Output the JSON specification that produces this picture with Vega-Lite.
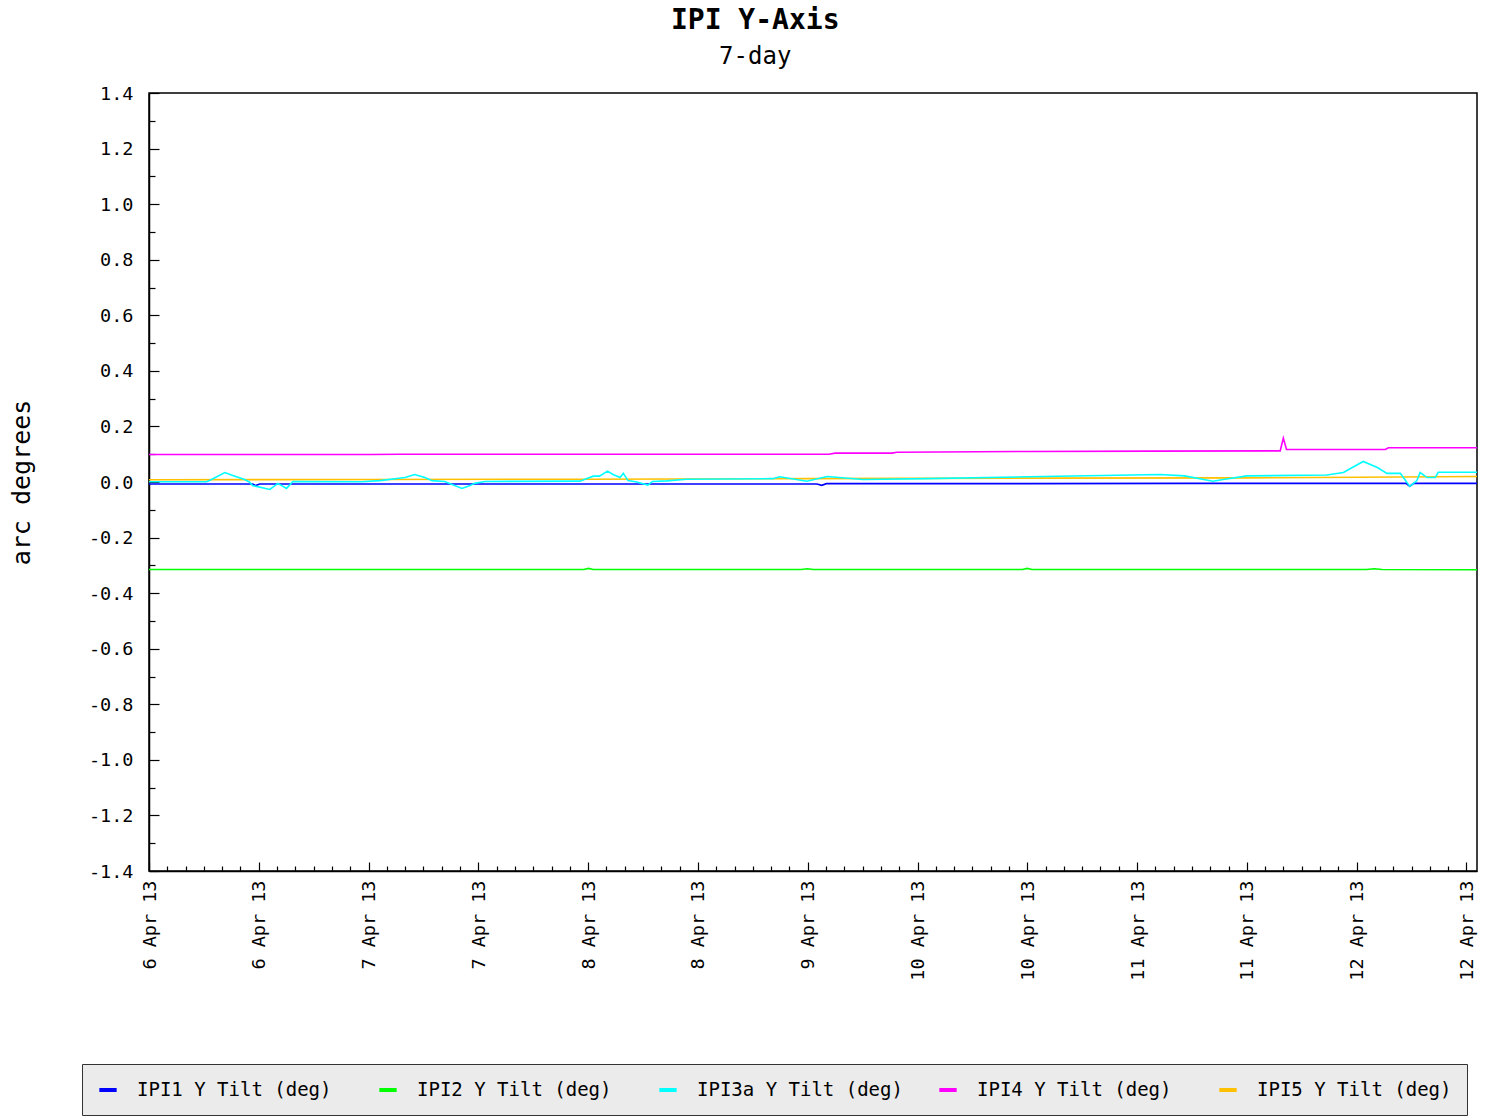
{
  "$schema": "https://vega.github.io/schema/vega-lite/v6.json",
  "width": 1328,
  "height": 778,
  "autosize": {"type": "none"},
  "padding": {"left": 149, "top": 93, "right": 30, "bottom": 249},
  "background": "white",
  "title": {
    "text": "IPI Y-Axis",
    "subtitle": "7-day",
    "font": "DejaVu Sans Mono",
    "fontSize": 28,
    "fontWeight": "bold",
    "color": "black",
    "subtitleFont": "DejaVu Sans Mono",
    "subtitleFontSize": 24,
    "subtitleColor": "black",
    "subtitlePadding": 10,
    "anchor": "middle",
    "frame": "bounds",
    "offset": 15,
    "dx": 12
  },
  "data": {
    "values": [
      {"series": "IPI1 Y Tilt (deg)", "time": "2013-04-06T01:00Z", "value": -0.007},
      {"series": "IPI1 Y Tilt (deg)", "time": "2013-04-06T14:06Z", "value": -0.007},
      {"series": "IPI1 Y Tilt (deg)", "time": "2013-04-06T14:30Z", "value": -0.013},
      {"series": "IPI1 Y Tilt (deg)", "time": "2013-04-06T15:00Z", "value": -0.007},
      {"series": "IPI1 Y Tilt (deg)", "time": "2013-04-07T18:00Z", "value": -0.007},
      {"series": "IPI1 Y Tilt (deg)", "time": "2013-04-08T08:36Z", "value": -0.007},
      {"series": "IPI1 Y Tilt (deg)", "time": "2013-04-09T13:30Z", "value": -0.007},
      {"series": "IPI1 Y Tilt (deg)", "time": "2013-04-09T14:06Z", "value": -0.012},
      {"series": "IPI1 Y Tilt (deg)", "time": "2013-04-09T14:42Z", "value": -0.006},
      {"series": "IPI1 Y Tilt (deg)", "time": "2013-04-10T16:00Z", "value": -0.006},
      {"series": "IPI1 Y Tilt (deg)", "time": "2013-04-11T12:00Z", "value": -0.005},
      {"series": "IPI1 Y Tilt (deg)", "time": "2013-04-12T16:00Z", "value": -0.005},
      {"series": "IPI1 Y Tilt (deg)", "time": "2013-04-12T16:30Z", "value": -0.015},
      {"series": "IPI1 Y Tilt (deg)", "time": "2013-04-12T17:00Z", "value": -0.005},
      {"series": "IPI1 Y Tilt (deg)", "time": "2013-04-13T01:00Z", "value": -0.005},

      {"series": "IPI2 Y Tilt (deg)", "time": "2013-04-06T01:00Z", "value": -0.315},
      {"series": "IPI2 Y Tilt (deg)", "time": "2013-04-08T08:00Z", "value": -0.315},
      {"series": "IPI2 Y Tilt (deg)", "time": "2013-04-08T08:36Z", "value": -0.311},
      {"series": "IPI2 Y Tilt (deg)", "time": "2013-04-08T09:12Z", "value": -0.315},
      {"series": "IPI2 Y Tilt (deg)", "time": "2013-04-09T11:30Z", "value": -0.315},
      {"series": "IPI2 Y Tilt (deg)", "time": "2013-04-09T12:18Z", "value": -0.312},
      {"series": "IPI2 Y Tilt (deg)", "time": "2013-04-09T13:00Z", "value": -0.315},
      {"series": "IPI2 Y Tilt (deg)", "time": "2013-04-10T15:30Z", "value": -0.315},
      {"series": "IPI2 Y Tilt (deg)", "time": "2013-04-10T16:06Z", "value": -0.311},
      {"series": "IPI2 Y Tilt (deg)", "time": "2013-04-10T16:42Z", "value": -0.315},
      {"series": "IPI2 Y Tilt (deg)", "time": "2013-04-12T11:00Z", "value": -0.315},
      {"series": "IPI2 Y Tilt (deg)", "time": "2013-04-12T12:00Z", "value": -0.312},
      {"series": "IPI2 Y Tilt (deg)", "time": "2013-04-12T13:00Z", "value": -0.315},
      {"series": "IPI2 Y Tilt (deg)", "time": "2013-04-13T01:00Z", "value": -0.316},

      {"series": "IPI5 Y Tilt (deg)", "time": "2013-04-06T01:00Z", "value": 0.008},
      {"series": "IPI5 Y Tilt (deg)", "time": "2013-04-07T04:54Z", "value": 0.009},
      {"series": "IPI5 Y Tilt (deg)", "time": "2013-04-08T08:36Z", "value": 0.010},
      {"series": "IPI5 Y Tilt (deg)", "time": "2013-04-09T12:18Z", "value": 0.012},
      {"series": "IPI5 Y Tilt (deg)", "time": "2013-04-10T16:06Z", "value": 0.014},
      {"series": "IPI5 Y Tilt (deg)", "time": "2013-04-11T19:54Z", "value": 0.015},
      {"series": "IPI5 Y Tilt (deg)", "time": "2013-04-12T09:54Z", "value": 0.017},
      {"series": "IPI5 Y Tilt (deg)", "time": "2013-04-13T01:00Z", "value": 0.020},

      {"series": "IPI3a Y Tilt (deg)", "time": "2013-04-06T01:00Z", "value": 0.001},
      {"series": "IPI3a Y Tilt (deg)", "time": "2013-04-06T08:18Z", "value": 0.001},
      {"series": "IPI3a Y Tilt (deg)", "time": "2013-04-06T08:54Z", "value": 0.009},
      {"series": "IPI3a Y Tilt (deg)", "time": "2013-04-06T10:36Z", "value": 0.034},
      {"series": "IPI3a Y Tilt (deg)", "time": "2013-04-06T11:36Z", "value": 0.023},
      {"series": "IPI3a Y Tilt (deg)", "time": "2013-04-06T13:06Z", "value": 0.009},
      {"series": "IPI3a Y Tilt (deg)", "time": "2013-04-06T13:42Z", "value": 0.0},
      {"series": "IPI3a Y Tilt (deg)", "time": "2013-04-06T14:06Z", "value": -0.013},
      {"series": "IPI3a Y Tilt (deg)", "time": "2013-04-06T16:18Z", "value": -0.027},
      {"series": "IPI3a Y Tilt (deg)", "time": "2013-04-06T17:18Z", "value": -0.005},
      {"series": "IPI3a Y Tilt (deg)", "time": "2013-04-06T18:24Z", "value": -0.023},
      {"series": "IPI3a Y Tilt (deg)", "time": "2013-04-06T19:12Z", "value": 0.002},
      {"series": "IPI3a Y Tilt (deg)", "time": "2013-04-07T03:54Z", "value": 0.001},
      {"series": "IPI3a Y Tilt (deg)", "time": "2013-04-07T06:12Z", "value": 0.005},
      {"series": "IPI3a Y Tilt (deg)", "time": "2013-04-07T09:24Z", "value": 0.016},
      {"series": "IPI3a Y Tilt (deg)", "time": "2013-04-07T10:36Z", "value": 0.027},
      {"series": "IPI3a Y Tilt (deg)", "time": "2013-04-07T11:54Z", "value": 0.016},
      {"series": "IPI3a Y Tilt (deg)", "time": "2013-04-07T12:48Z", "value": 0.005},
      {"series": "IPI3a Y Tilt (deg)", "time": "2013-04-07T14:24Z", "value": 0.002},
      {"series": "IPI3a Y Tilt (deg)", "time": "2013-04-07T16:36Z", "value": -0.023},
      {"series": "IPI3a Y Tilt (deg)", "time": "2013-04-07T17:36Z", "value": -0.013},
      {"series": "IPI3a Y Tilt (deg)", "time": "2013-04-07T18:12Z", "value": -0.005},
      {"series": "IPI3a Y Tilt (deg)", "time": "2013-04-07T19:30Z", "value": 0.002},
      {"series": "IPI3a Y Tilt (deg)", "time": "2013-04-08T07:30Z", "value": 0.003},
      {"series": "IPI3a Y Tilt (deg)", "time": "2013-04-08T09:12Z", "value": 0.021},
      {"series": "IPI3a Y Tilt (deg)", "time": "2013-04-08T10:00Z", "value": 0.021},
      {"series": "IPI3a Y Tilt (deg)", "time": "2013-04-08T11:00Z", "value": 0.039},
      {"series": "IPI3a Y Tilt (deg)", "time": "2013-04-08T11:42Z", "value": 0.027},
      {"series": "IPI3a Y Tilt (deg)", "time": "2013-04-08T12:36Z", "value": 0.016},
      {"series": "IPI3a Y Tilt (deg)", "time": "2013-04-08T13:00Z", "value": 0.031},
      {"series": "IPI3a Y Tilt (deg)", "time": "2013-04-08T13:36Z", "value": 0.005},
      {"series": "IPI3a Y Tilt (deg)", "time": "2013-04-08T14:42Z", "value": 0.0},
      {"series": "IPI3a Y Tilt (deg)", "time": "2013-04-08T16:06Z", "value": -0.011},
      {"series": "IPI3a Y Tilt (deg)", "time": "2013-04-08T16:42Z", "value": 0.002},
      {"series": "IPI3a Y Tilt (deg)", "time": "2013-04-08T18:30Z", "value": 0.004},
      {"series": "IPI3a Y Tilt (deg)", "time": "2013-04-08T21:00Z", "value": 0.010},
      {"series": "IPI3a Y Tilt (deg)", "time": "2013-04-09T07:54Z", "value": 0.012},
      {"series": "IPI3a Y Tilt (deg)", "time": "2013-04-09T08:48Z", "value": 0.019},
      {"series": "IPI3a Y Tilt (deg)", "time": "2013-04-09T12:12Z", "value": 0.003},
      {"series": "IPI3a Y Tilt (deg)", "time": "2013-04-09T14:48Z", "value": 0.020},
      {"series": "IPI3a Y Tilt (deg)", "time": "2013-04-09T19:18Z", "value": 0.009},
      {"series": "IPI3a Y Tilt (deg)", "time": "2013-04-10T03:24Z", "value": 0.012},
      {"series": "IPI3a Y Tilt (deg)", "time": "2013-04-10T16:24Z", "value": 0.019},
      {"series": "IPI3a Y Tilt (deg)", "time": "2013-04-11T08:54Z", "value": 0.027},
      {"series": "IPI3a Y Tilt (deg)", "time": "2013-04-11T12:00Z", "value": 0.022},
      {"series": "IPI3a Y Tilt (deg)", "time": "2013-04-11T15:36Z", "value": 0.003},
      {"series": "IPI3a Y Tilt (deg)", "time": "2013-04-11T16:54Z", "value": 0.009},
      {"series": "IPI3a Y Tilt (deg)", "time": "2013-04-11T19:54Z", "value": 0.022},
      {"series": "IPI3a Y Tilt (deg)", "time": "2013-04-12T06:00Z", "value": 0.025},
      {"series": "IPI3a Y Tilt (deg)", "time": "2013-04-12T08:06Z", "value": 0.034},
      {"series": "IPI3a Y Tilt (deg)", "time": "2013-04-12T10:36Z", "value": 0.074},
      {"series": "IPI3a Y Tilt (deg)", "time": "2013-04-12T12:24Z", "value": 0.052},
      {"series": "IPI3a Y Tilt (deg)", "time": "2013-04-12T13:36Z", "value": 0.031},
      {"series": "IPI3a Y Tilt (deg)", "time": "2013-04-12T15:18Z", "value": 0.031},
      {"series": "IPI3a Y Tilt (deg)", "time": "2013-04-12T16:30Z", "value": -0.016},
      {"series": "IPI3a Y Tilt (deg)", "time": "2013-04-12T17:24Z", "value": 0.005},
      {"series": "IPI3a Y Tilt (deg)", "time": "2013-04-12T17:48Z", "value": 0.034},
      {"series": "IPI3a Y Tilt (deg)", "time": "2013-04-12T18:42Z", "value": 0.016},
      {"series": "IPI3a Y Tilt (deg)", "time": "2013-04-12T19:42Z", "value": 0.016},
      {"series": "IPI3a Y Tilt (deg)", "time": "2013-04-12T20:06Z", "value": 0.035},
      {"series": "IPI3a Y Tilt (deg)", "time": "2013-04-13T01:00Z", "value": 0.035},

      {"series": "IPI4 Y Tilt (deg)", "time": "2013-04-06T01:00Z", "value": 0.099},
      {"series": "IPI4 Y Tilt (deg)", "time": "2013-04-06T15:00Z", "value": 0.099},
      {"series": "IPI4 Y Tilt (deg)", "time": "2013-04-07T04:54Z", "value": 0.099},
      {"series": "IPI4 Y Tilt (deg)", "time": "2013-04-07T08:42Z", "value": 0.100},
      {"series": "IPI4 Y Tilt (deg)", "time": "2013-04-08T08:36Z", "value": 0.100},
      {"series": "IPI4 Y Tilt (deg)", "time": "2013-04-09T15:00Z", "value": 0.100},
      {"series": "IPI4 Y Tilt (deg)", "time": "2013-04-09T15:48Z", "value": 0.104},
      {"series": "IPI4 Y Tilt (deg)", "time": "2013-04-09T23:00Z", "value": 0.104},
      {"series": "IPI4 Y Tilt (deg)", "time": "2013-04-09T23:36Z", "value": 0.107},
      {"series": "IPI4 Y Tilt (deg)", "time": "2013-04-10T16:24Z", "value": 0.110},
      {"series": "IPI4 Y Tilt (deg)", "time": "2013-04-11T08:00Z", "value": 0.111},
      {"series": "IPI4 Y Tilt (deg)", "time": "2013-04-12T00:06Z", "value": 0.112},
      {"series": "IPI4 Y Tilt (deg)", "time": "2013-04-12T00:30Z", "value": 0.158},
      {"series": "IPI4 Y Tilt (deg)", "time": "2013-04-12T00:54Z", "value": 0.117},
      {"series": "IPI4 Y Tilt (deg)", "time": "2013-04-12T13:24Z", "value": 0.117},
      {"series": "IPI4 Y Tilt (deg)", "time": "2013-04-12T13:48Z", "value": 0.123},
      {"series": "IPI4 Y Tilt (deg)", "time": "2013-04-13T01:00Z", "value": 0.123}
    ]
  },
  "mark": {"type": "line", "strokeWidth": 1.6, "clip": true},
  "encoding": {
    "x": {
      "field": "time",
      "type": "temporal",
      "scale": {"type": "utc", "domain": [1365210000000, 1365814800000], "nice": false},
      "axis": {
        "title": null,
        "values": [1365210000000, 1365218333333, 1365226666667, 1365235000000, 1365243333333, 1365251666667, 1365260000000, 1365268333333, 1365276666667, 1365285000000, 1365293333333, 1365301666667, 1365310000000, 1365318333333, 1365326666667, 1365335000000, 1365343333333, 1365351666667, 1365360000000, 1365368333333, 1365376666667, 1365385000000, 1365393333333, 1365401666667, 1365410000000, 1365418333333, 1365426666667, 1365435000000, 1365443333333, 1365451666667, 1365460000000, 1365468333333, 1365476666667, 1365485000000, 1365493333333, 1365501666667, 1365510000000, 1365518333333, 1365526666667, 1365535000000, 1365543333333, 1365551666667, 1365560000000, 1365568333333, 1365576666667, 1365585000000, 1365593333333, 1365601666667, 1365610000000, 1365618333333, 1365626666667, 1365635000000, 1365643333333, 1365651666667, 1365660000000, 1365668333333, 1365676666667, 1365685000000, 1365693333333, 1365701666667, 1365710000000, 1365718333333, 1365726666667, 1365735000000, 1365743333333, 1365751666667, 1365760000000, 1365768333333, 1365776666667, 1365785000000, 1365793333333, 1365801666667, 1365810000000],
        "labelExpr": "round((datum.value - 1365210000000) / 8333333.3333) % 6 == 0 ? utcFormat(datum.value, '%-d %b %y') : ''",
        "tickSize": {"condition": {"test": "round((datum.value - 1365210000000) / 8333333.3333) % 6 == 0", "value": -9}, "value": -5},
        "labelAngle": -90,
        "labelAlign": "right",
        "labelBaseline": "middle",
        "labelPadding": 18,
        "labelOverlap": false,
        "labelFlush": false,
        "grid": false
      }
    },
    "y": {
      "field": "value",
      "type": "quantitative",
      "scale": {"domain": [-1.4, 1.4], "nice": false, "zero": false},
      "axis": {
        "title": "arc degrees",
        "values": [-1.4, -1.3, -1.2, -1.1, -1.0, -0.9, -0.8, -0.7, -0.6, -0.5, -0.4, -0.3, -0.2, -0.1, 0, 0.1, 0.2, 0.3, 0.4, 0.5, 0.6, 0.7, 0.8, 0.9, 1.0, 1.1, 1.2, 1.3, 1.4],
        "labelExpr": "abs(round(datum.value * 10)) % 2 == 0 ? replace(format(datum.value, '.1f'), '\u2212', '-') : ''",
        "tickSize": {"condition": {"test": "abs(round(datum.value * 10)) % 2 == 0", "value": -10}, "value": -6},
        "labelPadding": 26,
        "labelOverlap": false,
        "labelFlush": false,
        "grid": false,
        "titlePadding": 54
      }
    },
    "color": {
      "field": "series",
      "type": "nominal",
      "scale": {
        "domain": ["IPI1 Y Tilt (deg)", "IPI2 Y Tilt (deg)", "IPI3a Y Tilt (deg)", "IPI4 Y Tilt (deg)", "IPI5 Y Tilt (deg)"],
        "range": ["#0000ff", "#00ff00", "#00ffff", "#ff00ff", "#ffc000"]
      },
      "legend": {
        "title": null,
        "orient": "none",
        "legendX": -67,
        "legendY": 971,
        "direction": "horizontal",
        "columns": 5,
        "gridAlign": "all",
        "columnPadding": 28,
        "padding": 15,
        "fillColor": "#ebebeb",
        "strokeColor": "#333333",
        "symbolType": "stroke",
        "symbolStrokeWidth": 4,
        "symbolSize": 300,
        "labelOffset": 18,
        "labelFont": "DejaVu Sans Mono",
        "labelFontSize": 19,
        "labelColor": "black",
        "labelLimit": 400
      }
    }
  },
  "config": {
    "view": {"stroke": "black", "strokeWidth": 1.5},
    "axis": {
      "domainColor": "black",
      "domainWidth": 1.5,
      "tickColor": "black",
      "tickWidth": 1.2,
      "labelFont": "DejaVu Sans Mono",
      "labelFontSize": 18.5,
      "labelColor": "black",
      "titleFont": "DejaVu Sans Mono",
      "titleFontSize": 25,
      "titleFontWeight": "normal",
      "titleColor": "black"
    }
  }
}
